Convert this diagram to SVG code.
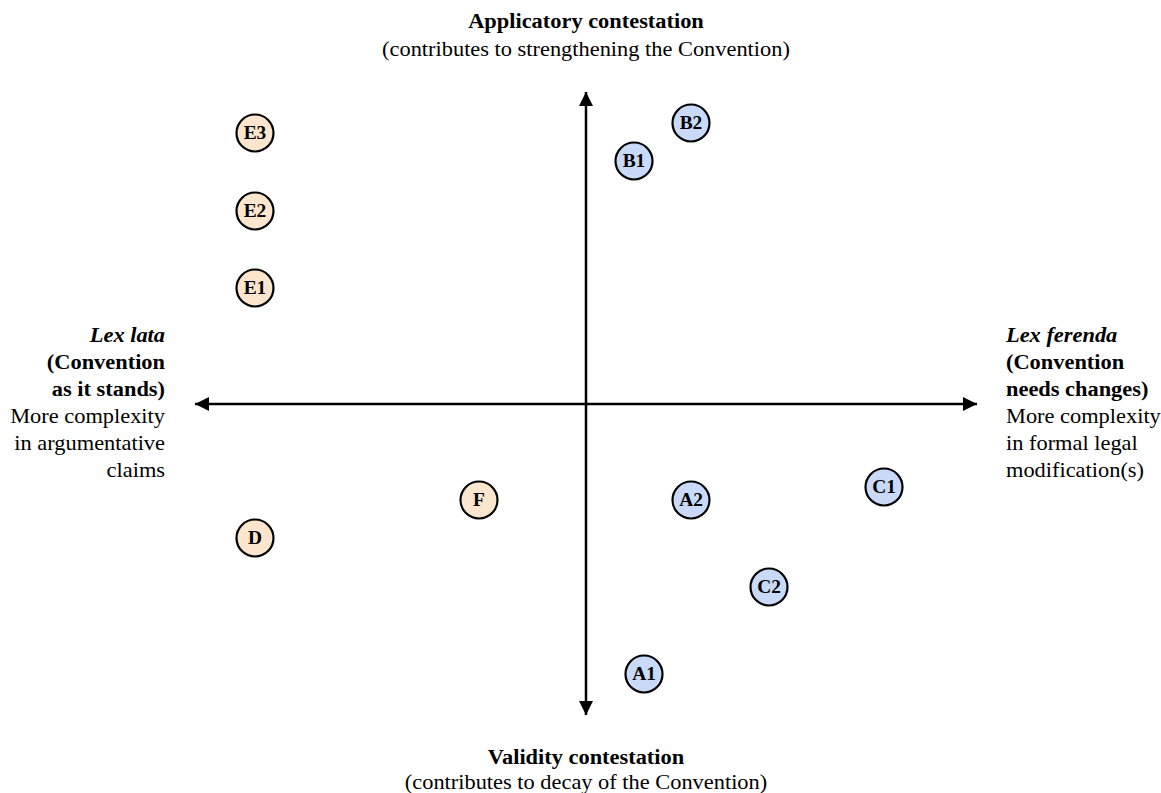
<svg xmlns="http://www.w3.org/2000/svg" width="1161" height="793" viewBox="0 0 1161 793">
<defs>
<marker id="ah" viewBox="0 0 10 10" refX="10" refY="5" markerWidth="17" markerHeight="14" markerUnits="userSpaceOnUse" orient="auto">
<path d="M0,0 L10,5 L0,10 Z" fill="#000"/>
</marker>
<style>
.t{font-family:"Liberation Serif","Times New Roman",serif;fill:#000;font-size:20px}
.b{font-weight:bold}
.i{font-style:italic}
.n circle{stroke:#000;stroke-width:2.2}
.o circle{fill:#fce5cd}
.u circle{fill:#c9daf8}
.n text{font-family:"Liberation Serif","Times New Roman",serif;font-weight:bold;font-size:18px;text-anchor:middle;fill:#000}
</style>
</defs>
<rect width="1161" height="793" fill="#fff"/>
<g id="connectors" stroke="#000" stroke-width="2.5" fill="none">
<line x1="586" y1="404" x2="195" y2="404" marker-end="url(#ah)"/>
<line x1="586" y1="404" x2="977" y2="404" marker-end="url(#ah)"/>
<line x1="586" y1="404" x2="586" y2="92" marker-end="url(#ah)"/>
<line x1="586" y1="404" x2="586" y2="715" marker-end="url(#ah)"/>
</g>
<g id="labels" class="t">
<text transform="matrix(1.12,0,0,1,586,28)" text-anchor="middle" class="b">Applicatory contestation</text>
<text transform="matrix(1.12,0,0,1,586,56)" text-anchor="middle">(contributes to strengthening the Convention)</text>
<text transform="matrix(1.12,0,0,1,586,764)" text-anchor="middle" class="b">Validity contestation</text>
<text transform="matrix(1.12,0,0,1,586,789)" text-anchor="middle">(contributes to decay of the Convention)</text>
<g text-anchor="end">
<text transform="matrix(1.12,0,0,1,165,342)" class="b i">Lex lata</text>
<text transform="matrix(1.12,0,0,1,165,369)" class="b">(Convention</text>
<text transform="matrix(1.12,0,0,1,165,396)" class="b">as it stands)</text>
<text transform="matrix(1.12,0,0,1,165,423)">More complexity</text>
<text transform="matrix(1.12,0,0,1,165,450)">in argumentative</text>
<text transform="matrix(1.12,0,0,1,165,477)">claims</text>
</g>
<g>
<text transform="matrix(1.12,0,0,1,1006,342)" class="b i">Lex ferenda</text>
<text transform="matrix(1.12,0,0,1,1006,369)" class="b">(Convention</text>
<text transform="matrix(1.12,0,0,1,1006,396)" class="b">needs changes)</text>
<text transform="matrix(1.12,0,0,1,1006,423)">More complexity</text>
<text transform="matrix(1.12,0,0,1,1006,450)">in formal legal</text>
<text transform="matrix(1.12,0,0,1,1006,477)">modification(s)</text>
</g>
</g>
<g id="E3" class="n o"><circle cx="255" cy="133" r="18.5"/><text transform="matrix(1.08,0,0,1,255,139)">E3</text></g>
<g id="E2" class="n o"><circle cx="255" cy="211" r="18.5"/><text transform="matrix(1.08,0,0,1,255,217)">E2</text></g>
<g id="E1" class="n o"><circle cx="255" cy="288" r="18.5"/><text transform="matrix(1.08,0,0,1,255,294)">E1</text></g>
<g id="D" class="n o"><circle cx="255" cy="538" r="18.5"/><text transform="matrix(1.08,0,0,1,255,544)">D</text></g>
<g id="F" class="n o"><circle cx="479" cy="500" r="18.5"/><text transform="matrix(1.08,0,0,1,479,506)">F</text></g>
<g id="B1" class="n u"><circle cx="634" cy="161" r="18.5"/><text transform="matrix(1.08,0,0,1,634,167)">B1</text></g>
<g id="B2" class="n u"><circle cx="691" cy="123" r="18.5"/><text transform="matrix(1.08,0,0,1,691,129)">B2</text></g>
<g id="A2" class="n u"><circle cx="691" cy="500" r="18.5"/><text transform="matrix(1.08,0,0,1,691,506)">A2</text></g>
<g id="C1" class="n u"><circle cx="884" cy="487" r="18.5"/><text transform="matrix(1.08,0,0,1,884,493)">C1</text></g>
<g id="C2" class="n u"><circle cx="769" cy="587" r="18.5"/><text transform="matrix(1.08,0,0,1,769,593)">C2</text></g>
<g id="A1" class="n u"><circle cx="644" cy="674" r="18.5"/><text transform="matrix(1.08,0,0,1,644,680)">A1</text></g>
</svg>
